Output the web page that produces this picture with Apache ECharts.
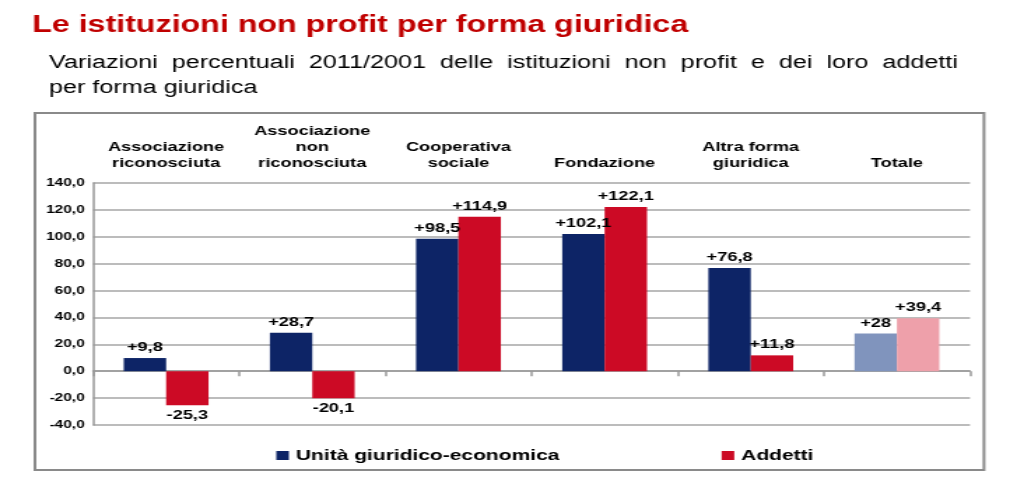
<!DOCTYPE html>
<html><head><meta charset="utf-8">
<script src="https://cdn.jsdelivr.net/npm/echarts@6/dist/echarts.min.js"></script>
<style>html,body{margin:0;padding:0;background:#fff;overflow:hidden}
#c{width:732px;height:488px;transform:scaleX(1.39891);transform-origin:0 0}</style>
</head><body><div id="c"></div>
<script>
const categories = ['Associazione\nriconosciuta', 'Associazione\nnon\nriconosciuta', 'Cooperativa\nsociale', 'Fondazione', 'Altra forma\ngiuridica', 'Totale'];
const unitaValues = [9.8, 28.7, 98.5, 102.1, 76.8, 28];
const addettiValues = [-25.3, -20.1, 114.9, 122.1, 11.8, 39.4];
const seriesNames = ['Unità giuridico-economica', 'Addetti'];
const yTicks = {min: -40, max: 140, interval: 20};

const FONT = 'Liberation Sans, Arial, sans-serif';
const BLUE = '#0d2466', RED = '#cc0a25', BLUE_L = '#8094bd', RED_L = '#eea0aa';
const fmt = v => (v > 0 ? '+' : '') + String(v).replace('.', ',');
function mk(vals, col, colL) {
  return vals.map((v, i) => ({
    value: v,
    itemStyle: {color: i === vals.length - 1 ? colL : col},
    label: {position: v >= 0 ? 'top' : 'bottom'}
  }));
}
const labelStyle = {show: true, formatter: p => fmt(p.value), color: '#000', fontWeight: 'bold', fontSize: 13, fontFamily: FONT, distance: 4};

const chart = echarts.init(document.getElementById('c'), null, {renderer: 'canvas'});
chart.setOption({
  animation: false,
  backgroundColor: '#fff',
  textStyle: {fontFamily: FONT},
  title: [
    {text: 'Le istituzioni non profit per forma giuridica', left: 18, top: 9,
     textStyle: {color: '#c00000', fontSize: 23, fontWeight: 'bold', fontFamily: FONT}},
    {text: 'Variazioni  percentuali  2011/2001  delle  istituzioni  non  profit  e  dei  loro  addetti\nper forma giuridica', left: 30, top: 46,
     textStyle: {color: '#000', fontSize: 18, fontWeight: 'normal', lineHeight: 25, fontFamily: FONT}}
  ],
  graphic: [{type: 'rect', shape: {x: 25, y: 113, width: 678.4, height: 357}, style: {fill: 'none', stroke: '#8a8a8a', lineWidth: 2}, z: -1}],
  grid: {left: 66.5, right: 38.6, top: 183, bottom: 63, containLabel: false},
  legend: {
    data: seriesNames, left: 192.5, top: 443, icon: 'rect', itemWidth: 9, itemHeight: 9, itemGap: 116,
    textStyle: {fontSize: 15, fontWeight: 'bold', color: '#000', fontFamily: FONT}
  },
  xAxis: [
    {type: 'category', data: categories, position: 'bottom',
     axisLine: {show: true, onZero: true, lineStyle: {color: '#999', width: 1.5}},
     axisTick: {show: true, length: 5, inside: false, lineStyle: {color: '#999', width: 1.5}},
     axisLabel: {show: false}},
    {type: 'category', data: categories, position: 'top',
     axisLine: {show: false}, axisTick: {show: false},
     axisLabel: {show: true, margin: 12, color: '#000', fontWeight: 'bold', fontSize: 13, lineHeight: 16, fontFamily: FONT, interval: 0}}
  ],
  yAxis: {
    type: 'value', min: yTicks.min, max: yTicks.max, interval: yTicks.interval,
    axisLine: {show: true, lineStyle: {color: '#999', width: 1.5}},
    axisTick: {show: false},
    splitLine: {lineStyle: {color: '#a6a6a6', width: 1.5}},
    axisLabel: {formatter: v => v.toFixed(1).replace('.', ','), color: '#000', fontWeight: 'bold', fontSize: 11, margin: 6}
  },
  series: [
    {name: seriesNames[0], type: 'bar', xAxisIndex: 0, data: mk(unitaValues, BLUE, BLUE_L), itemStyle: {color: BLUE},
     barGap: '0%', barCategoryGap: '42%', label: labelStyle},
    {name: seriesNames[1], type: 'bar', xAxisIndex: 0, data: mk(addettiValues, RED, RED_L), itemStyle: {color: RED},
     barGap: '0%', barCategoryGap: '42%', label: labelStyle}
  ]
});
</script></body></html>
